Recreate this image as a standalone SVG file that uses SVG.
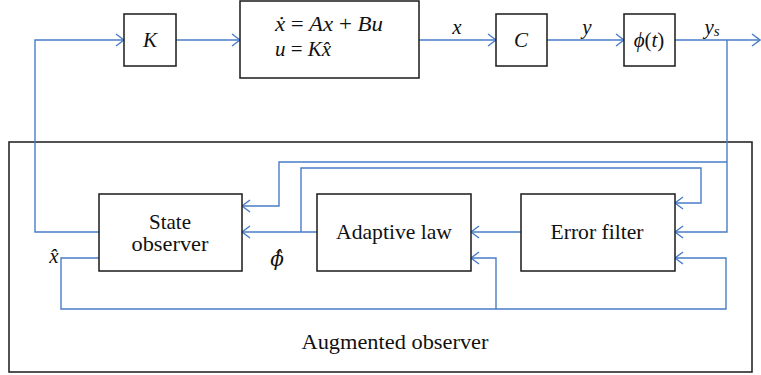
<svg xmlns="http://www.w3.org/2000/svg" width="761" height="375" viewBox="0 0 761 375">
<style>
.box{fill:#fff;stroke:#1a1a1a;stroke-width:1.5}
.frame{fill:none;stroke:#1a1a1a;stroke-width:1.5}
.wire{fill:none;stroke:#4a7cc8;stroke-width:1.4}
.t{font-family:"Liberation Serif",serif;font-size:21px;fill:#111}
.m{font-family:"Liberation Serif",serif;font-style:italic;font-size:21px;fill:#111}
.dj{font-family:"DejaVu Serif",serif;font-style:italic;font-size:20px;fill:#111}
.u{font-style:normal}
</style>
<defs>
<marker id="arr" markerUnits="userSpaceOnUse" markerWidth="12" markerHeight="14" refX="9" refY="7" orient="auto">
<path d="M1,1 L9,7 L1,13" fill="none" stroke="#4a7cc8" stroke-width="1.4"/>
</marker>
</defs>
<rect id="augmented-frame" class="frame" x="9" y="142" width="743" height="230"/>
<g id="connectors">
<path class="wire" d="M99,232 H35 V40 H124" marker-end="url(#arr)"/>
<path class="wire" d="M176,40 H240" marker-end="url(#arr)"/>
<path class="wire" d="M419,40 H496" marker-end="url(#arr)"/>
<path class="wire" d="M547,40 H624" marker-end="url(#arr)"/>
<path class="wire" d="M675,40 H760" marker-end="url(#arr)"/>
<path class="wire" d="M727,40 V232 H675" marker-end="url(#arr)"/>
<path class="wire" d="M727,162 H279 V206 H242" marker-end="url(#arr)"/>
<path class="wire" d="M317,232 H242" marker-end="url(#arr)"/>
<path class="wire" d="M301,232 V168 H701 V203 H675" marker-end="url(#arr)"/>
<path class="wire" d="M521,232 H471" marker-end="url(#arr)"/>
<path class="wire" d="M99,258 H61 V309 H726 V258 H675" marker-end="url(#arr)"/>
<path class="wire" d="M496,309 V258 H471" marker-end="url(#arr)"/>
</g>
<g id="K">
<rect class="box" x="124" y="14" width="52" height="52"/>
<text class="m" x="150" y="47" text-anchor="middle">K</text>
</g>
<g id="plant">
<rect class="box" x="240" y="1" width="179" height="77"/>
<text class="m" x="275" y="31" textLength="108" lengthAdjust="spacingAndGlyphs">ẋ <tspan class="u">=</tspan> Ax <tspan class="u">+</tspan> Bu</text>
<text class="m" x="275" y="56">u <tspan class="u">=</tspan> Kx̂</text>
</g>
<g id="C">
<rect class="box" x="496" y="14" width="51" height="52"/>
<text class="m" x="521" y="47" text-anchor="middle">C</text>
</g>
<g id="phi">
<rect class="box" x="624" y="14" width="51" height="52"/>
<text class="m" x="649" y="47" text-anchor="middle">ϕ<tspan class="u">(</tspan>t<tspan class="u">)</tspan></text>
</g>
<g id="signal-labels">
<text class="m" x="457" y="34" text-anchor="middle">x</text>
<text class="m" x="587" y="34" text-anchor="middle">y</text>
<text class="m" x="712" y="34" text-anchor="middle">y<tspan font-size="15" dy="2">s</tspan></text>
<text class="m" x="54" y="263" text-anchor="middle">x̂</text>
<text class="dj" x="277" y="266" text-anchor="middle">ϕ̂</text>
</g>
<g id="state-observer">
<rect class="box" x="99" y="194" width="143" height="77"/>
<text class="t" x="170" y="229" text-anchor="middle">State</text>
<text class="t" x="170" y="251" text-anchor="middle" textLength="77" lengthAdjust="spacingAndGlyphs">observer</text>
</g>
<g id="adaptive-law">
<rect class="box" x="317" y="194" width="154" height="77"/>
<text class="t" x="394" y="239" text-anchor="middle" textLength="116" lengthAdjust="spacingAndGlyphs">Adaptive law</text>
</g>
<g id="error-filter">
<rect class="box" x="521" y="194" width="154" height="77"/>
<text class="t" x="597" y="239" text-anchor="middle" textLength="93" lengthAdjust="spacingAndGlyphs">Error filter</text>
</g>
<text id="augmented-label" class="t" x="395" y="349" text-anchor="middle" textLength="187" lengthAdjust="spacingAndGlyphs">Augmented observer</text>
</svg>
